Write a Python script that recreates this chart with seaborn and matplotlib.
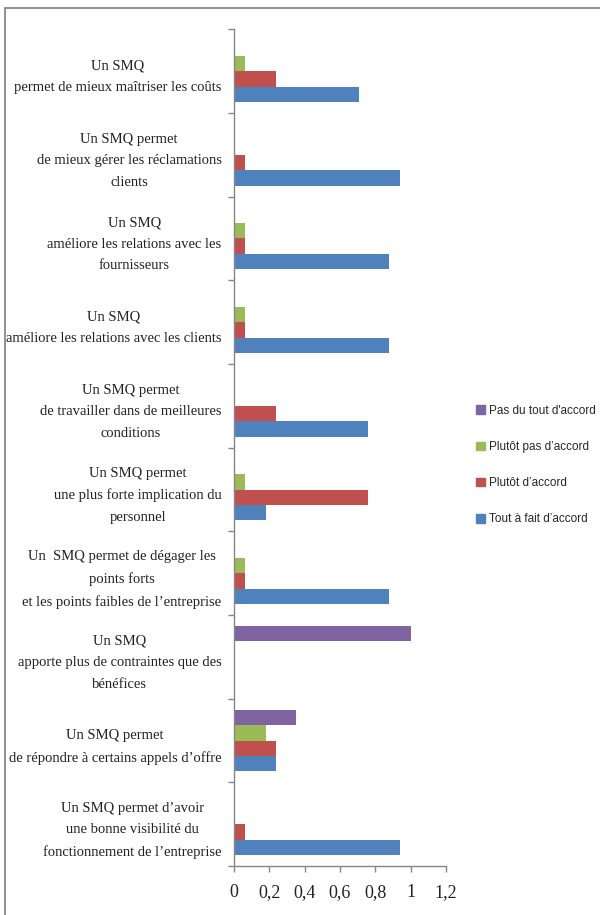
import pandas as pd
import matplotlib
matplotlib.use('Agg')
import matplotlib.pyplot as plt
import matplotlib.patches as mpatches
from matplotlib.ticker import FuncFormatter, FixedLocator
import seaborn as sns
import numpy as np

# Data (share of respondents per answer)
categories = [
    "Un SMQ\npermet de mieux maîtriser les coûts",
    "Un SMQ permet\nde mieux gérer les réclamations\nclients",
    "Un SMQ\naméliore les relations avec les\nfournisseurs",
    "Un SMQ\naméliore les relations avec les clients",
    "Un SMQ permet\nde travailler dans de meilleures\nconditions",
    "Un SMQ permet\nune plus forte implication du\npersonnel",
    "Un  SMQ permet de dégager les\npoints forts\net les points faibles de l’entreprise",
    "Un SMQ\napporte plus de contraintes que des\nbénéfices",
    "Un SMQ permet\nde répondre à certains appels d’offre",
    "Un SMQ permet d’avoir\nune bonne visibilité du\nfonctionnement de l’entreprise",
]
series = ["Pas du tout d'accord", "Plutôt pas d’accord", "Plutôt d’accord", "Tout à fait d’accord"]
pas_du_tout = [0, 0, 0, 0, 0, 0, 0, 1.0, 0.35, 0]
plutot_pas = [0.06, 0, 0.06, 0.06, 0, 0.06, 0.06, 0, 0.18, 0]
plutot = [0.24, 0.06, 0.06, 0.06, 0.24, 0.76, 0.06, 0, 0.24, 0.06]
tout_a_fait = [0.71, 0.94, 0.88, 0.88, 0.76, 0.18, 0.88, 0, 0.24, 0.94]
colors = ["#8064A2", "#9BBB59", "#C0504D", "#4F81BD"]
x_ticks = [0, 0.2, 0.4, 0.6, 0.8, 1.0, 1.2]

rows = []
for s, vals in zip(series, [pas_du_tout, plutot_pas, plutot, tout_a_fait]):
    for c, v in zip(categories, vals):
        rows.append({"cat": c, "serie": s, "val": v})
df = pd.DataFrame(rows)

sns.set_style("white")
plt.rcParams['font.family'] = ['Liberation Serif', 'DejaVu Serif']

fig = plt.figure(figsize=(6, 9.15), dpi=100)
ax = fig.add_axes([0.39, 0.0535, 0.353, 0.9145])

sns.barplot(data=df, y="cat", x="val", hue="serie", order=categories,
            hue_order=series, palette=colors, orient="h", width=0.74,
            saturation=1, ax=ax, edgecolor="none", linewidth=0)

ax.set_xlim(0, 1.2)
ax.set_ylim(len(categories) - 0.5, -0.5)
ax.set_xticks(x_ticks)
ax.xaxis.set_major_formatter(FuncFormatter(lambda v, p: f"{v:g}".replace('.', ',')))
ax.set_xlabel("")
ax.set_ylabel("")

# labels at centers, tick marks at category boundaries
ax.set_yticks(np.arange(len(categories)))
ax.set_yticklabels(categories, fontsize=10.5, multialignment='center', linespacing=1.85)
ax.yaxis.set_minor_locator(FixedLocator(np.arange(-0.5, len(categories), 1)))
ax.tick_params(axis='y', which='major', length=0, pad=9, colors='#222222')
ax.tick_params(axis='y', which='minor', length=4, width=1, color='#868686', left=True)
ax.tick_params(axis='x', length=4, width=1, color='#868686', bottom=True, pad=9,
               labelsize=13, labelcolor='#222222')

for side in ['top', 'right']:
    ax.spines[side].set_visible(False)
for side in ['left', 'bottom']:
    ax.spines[side].set_color('#868686')
    ax.spines[side].set_linewidth(1)

ax.get_legend().remove()
handles = [mpatches.Patch(color=c) for c in colors]
fig.legend(handles, series, loc='upper left', bbox_to_anchor=(0.793, 0.5575),
           frameon=False, borderpad=0, borderaxespad=0, handlelength=0.75,
           handleheight=0.75, handletextpad=0.35, labelspacing=2.05,
           prop={'family': ['Liberation Sans', 'DejaVu Sans'], 'size': 8.5})

# outer frame (cut off at right and bottom)
frame = mpatches.Rectangle((5 / 600, -0.2), 1.2, 1.2 - 8 / 915, transform=fig.transFigure,
                           fill=False, edgecolor='#888888', linewidth=1.3, clip_on=False)
fig.patches.append(frame)

fig.savefig("out.png", dpi=100)
